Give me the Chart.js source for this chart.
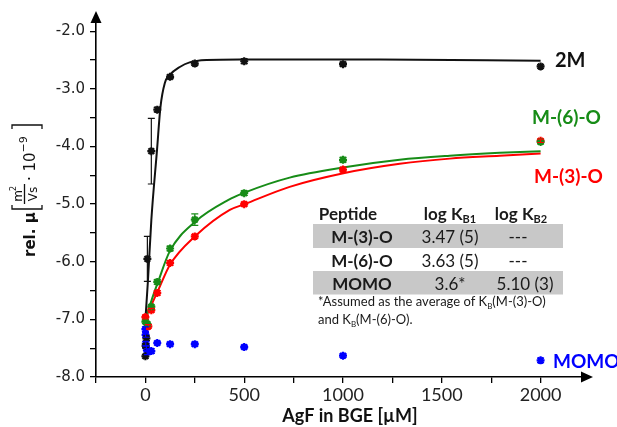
<!DOCTYPE html>
<html>
<head>
<meta charset="utf-8">
<script src="https://cdn.jsdelivr.net/npm/chart.js@4/dist/chart.umd.min.js"></script>
<style>
  html, body { margin: 0; padding: 0; background: #fff; }
</style>
</head>
<body>
<canvas id="myChart" width="617" height="427"></canvas>
<script>
/* datos medidos (AgF en µM, movilidad rel. en 10^-9 m2/Vs) */
const x2M   = [0, 1, 5, 10, 30, 60, 125, 250, 500, 1000, 2000];
const y2M   = [-7.64, -7.46, -7.33, -5.95, -4.08, -3.36, -2.79, -2.56, -2.52, -2.57, -2.61];
const e2M   = [0.03, 0.03, 0.04, 0.39, 0.57, 0.04, 0.03, 0.03, 0.04, 0.03, 0.03];

const xM3O  = [0, 15, 30, 60, 125, 250, 500, 1000, 2000];
const yM3O  = [-6.96, -7.12, -6.84, -6.54, -6.02, -5.56, -5.00, -4.40, -3.90];
const eM3O  = [0.03, 0.03, 0.03, 0.04, 0.04, 0.03, 0.03, 0.04, 0.03];

const xM6O  = [0, 10, 30, 60, 125, 250, 500, 1000, 2000];
const yM6O  = [-7.04, -7.08, -6.78, -6.35, -5.77, -5.27, -4.81, -4.23, -3.92];
const eM6O  = [0.03, 0.03, 0.03, 0.04, 0.04, 0.10, 0.04, 0.04, 0.03];

const xMOMO = [0, 1, 2, 5, 10, 30, 60, 125, 250, 500, 1000, 2000];
const yMOMO = [-7.17, -7.27, -7.42, -7.50, -7.56, -7.55, -7.41, -7.43, -7.43, -7.48, -7.63, -7.71];
const eMOMO = [0.04, 0.04, 0.04, 0.04, 0.05, 0.04, 0.03, 0.03, 0.03, 0.03, 0.03, 0.04];

/* curvas de ajuste */
const cx2M  = [0, 13, 30, 59, 76, 98, 123, 174, 224, 309, 477, 730, 1186, 2000];
const cy2M  = [-7.0, -6.32, -5.28, -4.05, -3.32, -2.90, -2.76, -2.62, -2.54, -2.50, -2.49, -2.49, -2.49, -2.51];
const cxM6O = [0, 10, 30, 64, 123, 254, 418, 502, 730, 1008, 1287, 1540, 1793, 2000];
const cyM6O = [-7.05, -6.90, -6.68, -6.35, -5.82, -5.30, -4.93, -4.80, -4.54, -4.36, -4.23, -4.16, -4.11, -4.08];
const cxM3O = [0, 10, 30, 64, 123, 254, 427, 502, 730, 1008, 1287, 1540, 1793, 2000];
const cyM3O = [-7.00, -6.90, -6.75, -6.50, -6.06, -5.55, -5.10, -5.00, -4.70, -4.46, -4.30, -4.21, -4.16, -4.12];

/* ticks */
const xTicks = [-250, 0, 250, 500, 750, 1000, 1250, 1500, 1750, 2000];
const yTicks = [-8, -7.5, -7, -6.5, -6, -5.5, -5, -4.5, -4, -3.5, -3, -2.5, -2];

const BLACK = '#111111';
const RED = '#ff0000';
const GREEN = '#178c17';
const BLUE = '#0000ff';

const ctx = document.getElementById('myChart');

function pts(xs, ys) {
  return xs.map((x, i) => ({ x: x, y: ys[i] }));
}

function puntos(xs, ys, errs, color) {
  return {
    type: 'scatter',
    data: pts(xs, ys),
    errs: errs,
    pointStyle: 'star',
    pointRadius: 4,
    borderWidth: 2.2,
    borderColor: color,
    backgroundColor: color
  };
}

function curva(xs, ys, color) {
  return {
    type: 'line',
    data: pts(xs, ys),
    borderColor: color,
    borderWidth: 2,
    pointRadius: 0,
    fill: false,
    cubicInterpolationMode: 'monotone'
  };
}

/* barras de error */
const errorBars = {
  id: 'errorBars',
  afterDatasetsDraw(chart) {
    const c = chart.ctx;
    const xs = chart.scales.x, ys = chart.scales.y;
    chart.data.datasets.forEach(ds => {
      if (!ds.errs) return;
      c.save();
      c.strokeStyle = ds.borderColor;
      c.lineWidth = 1.2;
      ds.data.forEach((p, i) => {
        const e = ds.errs[i];
        const px = xs.getPixelForValue(p.x);
        const top = ys.getPixelForValue(p.y + e);
        const bot = ys.getPixelForValue(p.y - e);
        c.beginPath();
        c.moveTo(px, top); c.lineTo(px, bot);
        c.moveTo(px - 3.5, top); c.lineTo(px + 3.5, top);
        c.moveTo(px - 3.5, bot); c.lineTo(px + 3.5, bot);
        c.stroke();
      });
      c.restore();
    });
  }
};

function textoSub(c, main, sub, x, y, size, bold, align) {
  const w = bold ? 'bold ' : '';
  c.font = w + size + 'px Lato';
  const w1 = c.measureText(main).width;
  c.font = w + Math.round(size * 0.62) + 'px Lato';
  const w2 = c.measureText(sub).width;
  let x0 = x;
  if (align === 'center') x0 = x - (w1 + w2) / 2;
  c.textAlign = 'left';
  c.font = w + size + 'px Lato';
  c.fillText(main, x0, y);
  c.font = w + Math.round(size * 0.62) + 'px Lato';
  c.fillText(sub, x0 + w1, y + 2.5);
  return x0 + w1 + w2;
}

/* textos, tabla, flechas y titulos */
const decoracion = {
  id: 'decoracion',
  afterDraw(chart) {
    const c = chart.ctx;
    const a = chart.chartArea;
    c.save();

    // flechas de los ejes
    c.fillStyle = '#000';
    c.beginPath();
    c.moveTo(a.left, a.top - 3);
    c.lineTo(a.left - 5.5, a.top + 9);
    c.lineTo(a.left + 5.5, a.top + 9);
    c.closePath(); c.fill();
    c.beginPath();
    c.moveTo(a.right + 3, a.bottom);
    c.lineTo(a.right - 9, a.bottom - 5.5);
    c.lineTo(a.right - 9, a.bottom + 5.5);
    c.closePath(); c.fill();

    // etiquetas de las series
    c.textBaseline = 'middle';
    c.textAlign = 'left';
    c.font = 'bold 20px Lato';
    c.fillStyle = BLACK; c.fillText('2M', 555, 61);
    c.font = 'bold 19px Lato';
    c.fillStyle = GREEN; c.fillText('M-(6)-O', 532, 118);
    c.fillStyle = RED; c.fillText('M-(3)-O', 534, 177);
    c.fillStyle = BLUE; c.fillText('MOMO', 553, 362);

    // tabla
    c.textBaseline = 'alphabetic';
    c.fillStyle = '#c8c8c8';
    c.fillRect(313, 224, 250, 24);
    c.fillRect(313, 271, 250, 23.5);
    c.fillStyle = '#1a1a1a';
    c.textAlign = 'center';
    c.font = 'bold 17px Lato';
    c.fillText('Peptide', 348, 220);
    textoSub(c, 'log K', 'B1', 450, 220, 17, true, 'center');
    textoSub(c, 'log K', 'B2', 521, 220, 17, true, 'center');
    c.textAlign = 'center';
    c.font = 'bold 17px Lato';
    c.fillText('M-(3)-O', 362, 243);
    c.fillText('M-(6)-O', 362, 266.5);
    c.fillText('MOMO', 362, 290);
    c.font = '17px Lato';
    c.fillText('3.47 (5)', 450, 243);
    c.fillText('3.63 (5)', 450, 266.5);
    c.fillText('3.6*', 450, 290);
    c.fillText('---', 518, 243);
    c.fillText('---', 518, 266.5);
    c.fillText('5.10 (3)', 525, 290);
    let xx = textoSub(c, '*Assumed as the average of K', 'B', 318, 306, 13, false, 'left');
    c.font = '13px Lato';
    c.fillText('(M-(3)-O)', xx, 306);
    xx = textoSub(c, 'and K', 'B', 318, 324, 13, false, 'left');
    c.font = '13px Lato';
    c.fillText('(M-(6)-O).', xx, 324);

    // titulo eje x
    c.fillStyle = BLACK;
    c.textAlign = 'center';
    c.font = 'bold 18px Lato';
    c.fillText('AgF in BGE [\u00b5M]', 350, 422);

    // titulo eje y (rotado)
    c.rotate(-Math.PI / 2);
    c.textAlign = 'left';
    c.font = 'bold 15px "DejaVu Sans"';
    c.fillText('rel. \u00b5', -257, 35);
    c.strokeStyle = BLACK;
    c.lineWidth = 1.3;
    c.beginPath();
    c.moveTo(-205, 12); c.lineTo(-209, 12); c.lineTo(-209, 42); c.lineTo(-205, 42);
    c.moveTo(-129, 12); c.lineTo(-125, 12); c.lineTo(-125, 42); c.lineTo(-129, 42);
    c.moveTo(-204, 24.5); c.lineTo(-184, 24.5);
    c.stroke();
    c.textAlign = 'center';
    c.font = '12px "DejaVu Sans"';
    c.fillText('m', -196, 22);
    c.font = '8px "DejaVu Sans"';
    c.fillText('2', -188.5, 16);
    c.font = '12px "DejaVu Sans"';
    c.fillText('Vs', -194, 37);
    c.textAlign = 'left';
    c.font = '15px "DejaVu Sans"';
    c.fillText('\u00b7 10', -181, 35);
    c.font = '11px "DejaVu Sans"';
    c.fillText('\u22129', -152.5, 27);
    c.restore();
  }
};

new Chart(ctx, {
  data: {
    datasets: [
      puntos(x2M, y2M, e2M, BLACK),
      puntos(xM6O, yM6O, eM6O, GREEN),
      puntos(xM3O, yM3O, eM3O, RED),
      puntos(xMOMO, yMOMO, eMOMO, BLUE),
      curva(cx2M, cy2M, BLACK),
      curva(cxM6O, cyM6O, GREEN),
      curva(cxM3O, cyM3O, RED)
    ]
  },
  options: {
    responsive: false,
    animation: false,
    layout: { padding: { left: 0, right: 27, top: 14, bottom: 0 } },
    plugins: { legend: { display: false }, tooltip: { enabled: false } },
    scales: {
      x: {
        type: 'linear',
        min: -250,
        max: 2250,
        afterBuildTicks: s => { s.ticks = xTicks.map(v => ({ value: v })); },
        afterFit: s => { s.height = 50; },
        ticks: {
          autoSkip: false,
          maxRotation: 0,
          padding: 1,
          color: '#222',
          font: { family: 'Lato', size: 18 },
          callback: v => (v >= 0 && v % 500 === 0) ? String(v) : ''
        },
        grid: { display: true, drawOnChartArea: false, drawTicks: true, tickLength: 6, color: '#000', lineWidth: 1.3 },
        border: { display: true, color: '#000', width: 1.6 }
      },
      y: {
        type: 'linear',
        min: -8,
        max: -1.7,
        afterBuildTicks: s => { s.ticks = yTicks.map(v => ({ value: v })); },
        afterFit: s => { s.width = 96; },
        ticks: {
          autoSkip: false,
          padding: 5,
          color: '#222',
          font: { family: 'DejaVu Sans', size: 15 },
          callback: v => Number.isInteger(v) ? v.toFixed(1) : ''
        },
        grid: { display: true, drawOnChartArea: false, drawTicks: true, tickLength: 6, color: '#000', lineWidth: 1.3 },
        border: { display: true, color: '#000', width: 1.6 }
      }
    }
  },
  plugins: [errorBars, decoracion]
});
</script>
</body>
</html>
